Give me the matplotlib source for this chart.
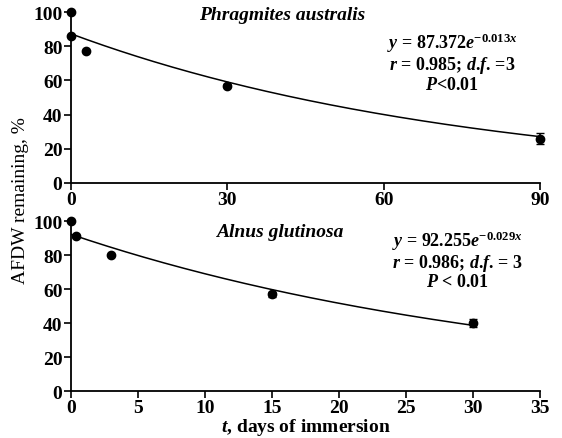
import matplotlib
matplotlib.use('Agg')
import matplotlib.pyplot as plt
import numpy as np

plt.rcParams['font.family'] = ['Liberation Serif', 'DejaVu Serif']
plt.rcParams['mathtext.fontset'] = 'custom'
plt.rcParams['mathtext.rm'] = 'Liberation Serif:bold'
plt.rcParams['mathtext.it'] = 'Liberation Serif:italic:bold'
plt.rcParams['mathtext.bf'] = 'Liberation Serif:bold'

# Phragmites australis
phr_t = [0, 0, 3, 30, 90]
phr_y = [100, 86, 77, 57, 26]
phr_err = [0, 0, 0, 1, 3]
phr_a, phr_k = 87.372, 0.013

# Alnus glutinosa
aln_t = [0, 0.4, 3, 15, 30]
aln_y = [100, 91, 80, 57, 40]
aln_err = [0, 0, 0, 1.5, 2.5]
aln_a, aln_k = 92.255, 0.029

fig = plt.figure(figsize=(5.62, 4.39), dpi=100)
ax1 = fig.add_axes([0.126, 0.581, 0.835, 0.389])
ax2 = fig.add_axes([0.126, 0.107, 0.835, 0.387])


def panel(ax, t, y, err, a, k, xmax, xticks):
    xx = np.linspace(0, max(t), 200)
    ax.plot(xx, a * np.exp(-k * xx), color='black', lw=1.1)
    ax.errorbar(t, y, yerr=err, fmt='o', color='black', ms=6,
                capsize=3, elinewidth=1.2, clip_on=False, zorder=5)
    ax.set_xlim(0, xmax)
    ax.set_ylim(0, 100)
    ax.set_xticks(xticks)
    ax.set_yticks([0, 20, 40, 60, 80, 100])
    for s in ['top', 'right']:
        ax.spines[s].set_visible(False)
    for s in ['left', 'bottom']:
        ax.spines[s].set_linewidth(1.3)
    ax.tick_params(direction='out', length=5, width=1.2, labelsize=14, pad=1)
    for lab in ax.get_xticklabels() + ax.get_yticklabels():
        lab.set_fontweight('bold')


panel(ax1, phr_t, phr_y, phr_err, phr_a, phr_k, 90, [0, 30, 60, 90])
panel(ax2, aln_t, aln_y, aln_err, aln_a, aln_k, 35, [0, 5, 10, 15, 20, 25, 30, 35])

fs_eq = 13

# texto del panel superior
ax1.text(40.5, 98.8, 'Phragmites australis', style='italic', fontweight='bold',
         fontsize=14, ha='center', va='center')
ax1.text(73.1, 82.5, r'$y$ = 87.372$e^{-0.013x}$', fontsize=fs_eq, fontweight='bold',
         ha='center', va='center')
ax1.text(73.1, 69.3, r'$r$ = 0.985; $d$.$f$. =3', fontsize=fs_eq, fontweight='bold',
         ha='center', va='center')
ax1.text(73.1, 57.6, r'$P$<0.01', fontsize=fs_eq, fontweight='bold',
         ha='center', va='center')

# texto del panel inferior
ax2.text(15.6, 94.1, 'Alnus glutinosa', style='italic', fontweight='bold',
         fontsize=14, ha='center', va='center')
ax2.text(28.8, 88.8, r'$y$ = 92.255$e^{-0.029x}$', fontsize=fs_eq, fontweight='bold',
         ha='center', va='center')
ax2.text(28.8, 75.6, r'$r$ = 0.986; $d$.$f$. = 3', fontsize=fs_eq, fontweight='bold',
         ha='center', va='center')
ax2.text(28.8, 64.4, r'$P$ < 0.01', fontsize=fs_eq, fontweight='bold',
         ha='center', va='center')

ax2.set_xlabel(r'$t$, days of immersion', fontsize=14, fontweight='bold', labelpad=0)
fig.text(0.037, 0.544, 'AFDW remaining, %', rotation=90, fontsize=14,
         ha='center', va='center')

fig.savefig('out.png', dpi=100)
